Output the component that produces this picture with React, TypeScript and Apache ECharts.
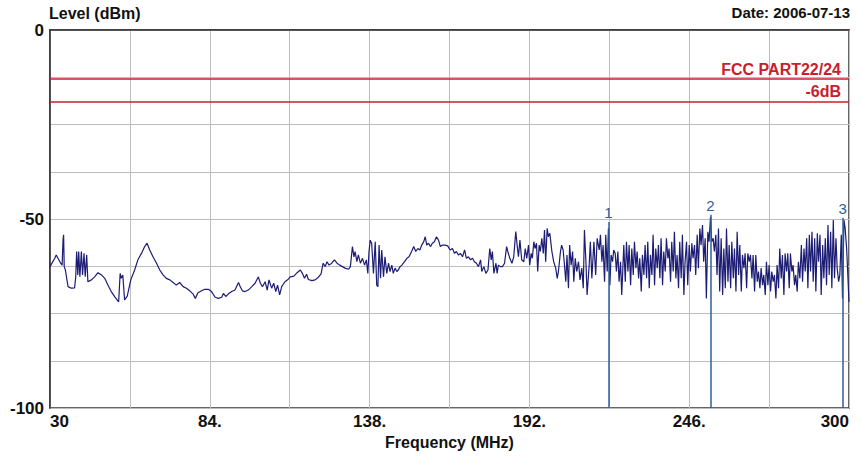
import React, { useEffect, useRef } from 'react';
import * as echarts from 'echarts';

const FONT = "'Liberation Sans', Arial, sans-serif";

// Axis tick labels
const xLabelValues = [30, 84, 138, 192, 246, 300];
const xLabelTexts = ['30', '84.', '138.', '192.', '246.', '300'];
const yLabelValues = [0, -50, -100];

// Limit lines (dBm)
const limitNames = ['FCC PART22/24', '-6dB'];
const limitLevels = [-13, -19];

// Markers [MHz, dBm]
const markerNames = ['1', '2', '3'];
const markerFreqs = [218.7, 253.2, 297.9];
const markerLevels = [-50.8, -48.9, -49.7];

// Trace [MHz, dBm]
const traceLow = [
  [30.0, -62.6], [31.6, -60.4], [32.1, -59.5], [32.7, -60.4], [33.6, -61.7], [34.1, -62.2], [34.4, -55.6], [34.6, -54.2],
  [34.8, -62.6], [35.2, -63.5], [36.1, -67.9], [37.2, -68.3], [38.3, -68.2], [38.7, -65.3], [39.0, -58.6], [39.4, -64.8],
  [39.7, -58.6], [40.1, -65.3], [40.6, -58.6], [41.0, -64.8], [41.5, -59.1], [41.9, -65.3], [42.4, -59.5], [42.8, -66.6],
  [44.0, -66.1], [45.1, -65.3], [46.2, -64.2], [47.4, -64.8], [48.5, -65.7], [49.6, -67.5], [50.7, -69.2], [51.9, -70.6],
  [53.2, -71.9], [53.7, -64.4], [54.1, -65.7], [54.6, -64.8], [55.2, -71.4], [56.1, -70.4], [57.3, -66.1], [58.6, -63.5],
  [59.7, -60.8], [60.9, -59.1], [62.0, -57.3], [62.8, -56.4], [63.7, -58.2], [64.8, -60.0], [66.0, -61.7], [67.1, -63.5],
  [68.2, -64.8], [69.3, -65.7], [70.5, -66.1], [71.6, -66.8], [72.7, -67.5], [73.8, -66.8], [75.0, -67.9], [76.1, -68.3],
  [77.2, -69.0], [78.3, -69.8], [79.1, -71.0], [80.0, -69.5], [81.2, -69.0], [82.3, -68.6],
];

const traceMid = [
  [83.5, -68.6], [84.6, -69.2], [85.8, -70.7], [86.9, -71.0], [88.0, -70.7], [88.6, -69.7], [89.4, -70.5], [90.3, -69.8],
  [91.4, -69.2], [92.5, -68.8], [93.7, -66.8], [94.3, -67.9], [95.0, -69.0], [95.9, -69.2], [97.0, -68.8], [98.2, -67.9],
  [99.3, -67.0], [100.4, -65.3], [101.1, -67.0], [101.8, -67.9], [102.7, -66.6], [103.4, -68.8], [104.0, -66.1], [104.9, -68.3],
  [105.6, -67.0], [106.3, -69.2], [106.9, -67.5], [107.6, -70.1], [108.3, -67.9], [109.4, -66.6], [110.3, -66.1], [111.2, -65.3],
  [112.4, -65.1], [113.5, -64.2], [114.6, -63.5], [115.3, -64.4], [116.0, -65.7], [116.7, -64.6], [117.3, -66.0], [118.5, -66.3],
  [119.6, -66.1], [120.7, -65.4], [121.6, -64.5], [122.3, -61.7], [123.0, -62.6], [123.6, -61.3], [124.3, -62.2], [125.2, -61.7],
  [126.1, -60.8], [127.0, -61.7], [127.9, -62.2], [128.8, -62.6], [129.7, -63.0], [130.9, -63.3], [131.5, -62.6], [132.2, -57.3],
  [132.7, -60.0], [133.1, -58.6], [133.7, -61.3], [134.2, -59.5], [134.9, -61.7], [135.6, -60.4], [136.3, -62.2], [136.9, -60.8],
  [137.4, -64.4], [137.8, -58.6],
  [138.2, -55.6], [138.7, -56.4], [139.3, -64.4], [139.9, -56.0], [140.4, -67.5], [140.8, -67.9], [141.2, -56.9], [141.7, -65.7],
  [142.1, -58.2], [142.7, -65.3], [143.2, -60.0], [143.8, -64.4], [144.4, -61.7], [144.9, -63.9], [145.5, -62.2], [146.0, -64.4],
  [146.6, -63.0], [147.2, -63.9], [147.7, -63.5], [148.3, -62.6], [148.9, -62.2], [149.8, -61.3], [150.6, -60.4], [151.3, -60.0],
  [152.2, -58.6], [152.9, -57.3], [153.6, -58.6], [154.3, -57.8], [155.0, -58.2], [155.6, -56.9], [156.3, -56.0], [156.8, -54.7],
  [157.3, -56.9], [157.9, -56.4], [158.6, -57.3], [159.2, -56.4], [159.9, -56.0], [160.6, -54.7], [161.3, -55.6], [161.9, -57.3],
  [162.6, -56.9], [163.5, -56.9], [164.4, -57.1], [165.2, -58.2], [166.0, -57.8], [166.7, -59.1], [167.3, -58.6], [168.0, -59.5],
  [168.7, -59.1], [169.4, -60.0], [170.1, -58.2], [170.7, -60.4], [171.4, -60.0], [172.1, -60.8], [172.8, -60.4], [173.4, -61.3],
  [174.1, -61.7], [174.8, -62.6], [175.5, -60.8], [175.9, -63.9], [176.6, -62.6], [177.3, -64.4], [178.0, -63.5], [178.6, -57.8],
  [179.1, -60.8], [179.5, -58.6], [180.0, -64.4], [180.7, -61.7], [181.1, -64.4], [181.5, -62.2], [182.2, -62.6], [182.9, -62.6],
  [183.6, -61.7], [184.3, -57.3], [184.7, -58.6], [185.4, -60.4], [186.1, -61.7], [186.7, -60.0], [187.4, -53.3], [187.9, -57.3],
  [188.3, -60.0], [188.8, -55.6], [189.4, -60.8], [190.1, -61.3],
];

const traceHigh = [
  [190.6, -57.8], [191.1, -60.4], [191.7, -56.9], [192.1, -62.2], [192.6, -59.1], [193.0, -60.4], [193.5, -56.0], [193.9, -57.8],
  [194.4, -56.4], [194.8, -63.9], [195.3, -56.9], [195.7, -58.6], [196.2, -55.1], [196.7, -59.1], [197.1, -52.9], [197.5, -61.3],
  [198.0, -52.5], [198.4, -54.7], [198.9, -53.8], [199.6, -58.6], [200.2, -61.3], [200.9, -63.0], [201.4, -65.7], [201.8, -63.9],
  [202.5, -58.6], [202.9, -56.9], [203.4, -58.2], [203.8, -61.7], [204.3, -66.6], [204.7, -59.5], [205.2, -68.3], [205.6, -56.9],
  [206.1, -62.2], [206.6, -58.6], [207.0, -66.6], [207.5, -60.4], [208.0, -63.9], [208.6, -61.3], [209.1, -66.1], [209.7, -63.0],
  [210.2, -68.3], [210.6, -52.9], [211.1, -61.3], [211.5, -70.1], [212.2, -62.2], [212.6, -56.0], [213.1, -65.7], [213.8, -56.0],
  [214.4, -64.8], [214.9, -55.1], [215.6, -58.2], [216.0, -54.2], [216.5, -61.3], [216.9, -56.9], [217.4, -66.6], [217.8, -54.2],
  [218.3, -63.9], [218.7, -52.5], [219.2, -67.5], [219.6, -59.5], [220.1, -61.3], [220.5, -58.2], [221.0, -59.1], [221.4, -63.9],
  [221.9, -58.6], [222.3, -66.6], [222.8, -61.3], [223.2, -70.1], [223.9, -56.9], [224.4, -66.6], [224.8, -56.0], [225.3, -63.9],
  [225.7, -56.9], [226.2, -67.5], [226.6, -57.8], [227.1, -64.8], [227.5, -56.0], [228.0, -63.0], [228.4, -58.6], [228.9, -65.7],
  [229.3, -60.4], [229.8, -69.2], [230.2, -59.5], [230.7, -64.8], [231.1, -56.9], [231.6, -65.7], [232.0, -56.0], [232.5, -68.3],
  [232.9, -59.5], [233.4, -64.8], [233.8, -54.2], [234.3, -67.5], [234.7, -57.8], [235.2, -63.0], [235.6, -56.9], [236.1, -65.7],
  [236.5, -55.1], [237.0, -67.5], [237.4, -58.6], [237.9, -63.9], [238.3, -55.1], [238.8, -60.4], [239.2, -57.8], [239.7, -66.6],
  [240.1, -56.0], [240.6, -63.9], [241.0, -53.4], [241.5, -65.7], [241.9, -59.5], [242.4, -68.3], [242.8, -56.0], [243.3, -65.7],
  [243.7, -54.2], [244.2, -70.1],
  [244.6, -61.3], [245.1, -56.0], [245.5, -67.5], [246.0, -56.9], [246.4, -63.9], [246.9, -56.4], [247.3, -60.4], [247.8, -56.9],
  [248.2, -64.8], [248.7, -54.2], [249.1, -63.0], [249.6, -52.5], [250.0, -56.9], [250.5, -51.6], [250.9, -61.3], [251.4, -55.1],
  [251.8, -71.0], [252.3, -53.4], [252.7, -56.0], [253.2, -49.4], [253.6, -56.0], [254.1, -55.1], [254.5, -58.6], [255.0, -54.2],
  [255.4, -64.8], [255.9, -52.5], [256.3, -69.2], [256.8, -55.1], [257.3, -70.1], [257.7, -57.8], [258.2, -68.3], [258.6, -52.5],
  [259.1, -66.6], [259.5, -56.9], [260.0, -68.3], [260.4, -56.0], [260.9, -65.7], [261.3, -57.8], [261.8, -69.2], [262.2, -53.4],
  [262.7, -64.8], [263.1, -56.9], [263.6, -69.2], [264.0, -59.5], [264.5, -63.0], [264.9, -59.1], [265.4, -68.3], [265.8, -59.1],
  [266.3, -61.3], [266.7, -59.5], [267.2, -65.7], [267.6, -59.5], [268.1, -69.2], [268.5, -59.5], [269.0, -66.6], [269.4, -63.9],
  [269.9, -68.3], [270.3, -63.0], [270.8, -67.5], [271.2, -64.8], [271.7, -70.1], [272.1, -61.3], [272.6, -67.5], [273.0, -62.2],
  [273.5, -69.2], [273.9, -63.9], [274.4, -66.6], [274.8, -64.8], [275.3, -71.0], [275.7, -62.2], [276.2, -68.3], [276.6, -57.8],
  [277.1, -65.7], [277.5, -59.5], [278.0, -70.1], [278.4, -59.1], [278.9, -63.9], [279.3, -59.1], [279.8, -68.3], [280.2, -59.1],
  [280.7, -63.9], [281.1, -62.2], [281.6, -67.5], [282.0, -64.8], [282.5, -69.2], [282.9, -61.3], [283.4, -65.7], [283.9, -56.9],
  [284.3, -66.6], [284.8, -57.8], [285.2, -63.9], [285.7, -55.1], [286.1, -68.3], [286.6, -54.2], [287.0, -63.9], [287.5, -53.4],
  [287.9, -66.6], [288.4, -55.1], [288.8, -69.2], [289.3, -53.8], [289.7, -61.3], [290.2, -54.2], [290.6, -70.1], [291.1, -56.9],
  [291.5, -65.7], [292.0, -55.1], [292.4, -67.5], [292.9, -51.6], [293.3, -64.8], [293.8, -53.4], [294.2, -68.3], [294.7, -50.3],
  [295.1, -65.7], [295.6, -55.1], [296.0, -63.0], [296.5, -66.6], [296.9, -64.8], [297.4, -54.2], [297.8, -71.0], [298.3, -50.3],
  [298.7, -52.5], [299.2, -57.8], [299.6, -64.8], [300.0, -71.9],
];

const RED = '#c81e2d';
const MARK = '#2f5f98';
const TRACE = '#1c1c74';

export default function App() {
  const ref = useRef<HTMLDivElement>(null);

  useEffect(() => {
    const chart = echarts.init(ref.current!, null, { renderer: 'svg' });
    const trace = [...traceLow, ...traceMid, ...traceHigh];

    const limitLines = limitLevels.map((lv, i) => ({
      yAxis: lv,
      name: limitNames[i],
      lineStyle: { color: RED, width: 1.5, type: 'solid' },
      label: {
        show: true,
        position: 'insideEndTop',
        formatter: limitNames[i],
        color: RED,
        fontFamily: FONT,
        fontWeight: 'bold',
        fontSize: 16,
        distance: [8, 2],
      },
    }));

    const markerLines = markerFreqs.map((f, i) => [
      {
        coord: [f, -100],
        name: markerNames[i],
        lineStyle: { color: MARK, width: 1.5, type: 'solid' },
        label: {
          show: true,
          position: 'end',
          formatter: markerNames[i],
          color: MARK,
          fontFamily: FONT,
          fontSize: 15,
          distance: 2,
        },
      },
      { coord: [f, markerLevels[i]] },
    ]);

    chart.setOption({
      animation: false,
      backgroundColor: '#ffffff',
      textStyle: { fontFamily: FONT },
      grid: {
        left: 50,
        right: 13,
        top: 30,
        bottom: 49,
        show: true,
        borderColor: '#333333',
        borderWidth: 1.5,
        backgroundColor: '#ffffff',
      },
      graphic: [
        {
          type: 'text',
          left: 49,
          top: 5,
          style: { text: 'Level (dBm)', font: `bold 16px ${FONT}`, fill: '#111111' },
        },
        {
          type: 'text',
          right: 12,
          top: 5,
          style: { text: 'Date: 2006-07-13', font: `bold 15px ${FONT}`, fill: '#111111' },
        },
      ],
      xAxis: {
        type: 'value',
        min: 30,
        max: 300,
        interval: 27,
        name: 'Frequency (MHz)',
        nameLocation: 'middle',
        nameGap: 23,
        nameTextStyle: { fontFamily: FONT, fontWeight: 'bold', fontSize: 16, color: '#111111' },
        axisLine: { show: true, lineStyle: { color: '#333333', width: 1.5 } },
        axisTick: { show: false },
        splitLine: { show: true, lineStyle: { color: '#bdbdbd', width: 1 } },
        axisLabel: {
          margin: 5,
          fontFamily: FONT,
          fontWeight: 'bold',
          fontSize: 17,
          color: '#111111',
          alignMinLabel: 'left',
          alignMaxLabel: 'right',
          formatter: (v: number) => {
            const idx = xLabelValues.indexOf(Math.round(v));
            return idx >= 0 ? xLabelTexts[idx] : '';
          },
        },
      },
      yAxis: {
        type: 'value',
        min: -100,
        max: 0,
        interval: 12.5,
        axisLine: { show: true, lineStyle: { color: '#333333', width: 1.5 } },
        axisTick: { show: false },
        splitLine: { show: true, lineStyle: { color: '#bdbdbd', width: 1 } },
        axisLabel: {
          margin: 6,
          fontFamily: FONT,
          fontWeight: 'bold',
          fontSize: 17,
          color: '#111111',
          formatter: (v: number) => (yLabelValues.indexOf(v) >= 0 ? String(v) : ''),
        },
      },
      series: [
        {
          type: 'line',
          data: trace,
          showSymbol: false,
          symbol: 'none',
          lineStyle: { color: TRACE, width: 1.2 },
          itemStyle: { color: TRACE },
          z: 3,
          markLine: {
            silent: true,
            symbol: ['none', 'none'],
            animation: false,
            data: [...limitLines, ...markerLines],
          },
        },
      ],
    });

    return () => chart.dispose();
  }, []);

  return (
    <div
      ref={ref}
      style={{ position: 'absolute', left: 0, top: 0, width: 862, height: 457, background: '#ffffff' }}
    />
  );
}
